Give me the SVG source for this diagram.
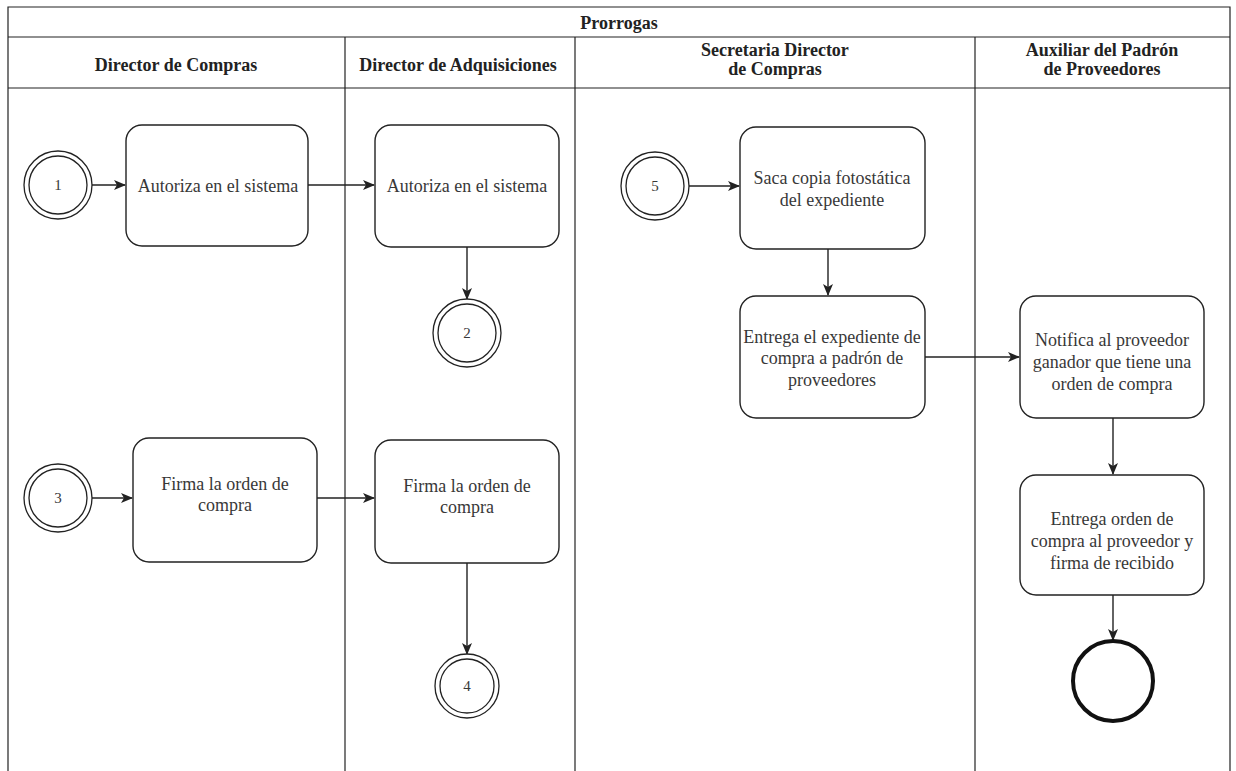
<svg xmlns="http://www.w3.org/2000/svg" width="1236" height="771" viewBox="0 0 1236 771">
  <style>
    .lane { fill: none; stroke: #222; stroke-width: 1.2; }
    .task rect { fill: #fff; stroke: #222; stroke-width: 1.4; }
    .lbl { font-family: "Liberation Serif", "DejaVu Serif", "Times New Roman", serif; font-size: 18px; fill: #383838; text-anchor: middle; }
    .num { font-family: "Liberation Serif", "DejaVu Serif", "Times New Roman", serif; font-size: 15px; fill: #383838; text-anchor: middle; }
    .hdr { font-family: "Liberation Serif", "DejaVu Serif", "Times New Roman", serif; font-size: 18px; font-weight: bold; fill: #222; text-anchor: middle; }
    .ring { fill: #fff; stroke: #222; stroke-width: 1.3; }
    .edge { fill: none; stroke: #222; stroke-width: 1.4; marker-end: url(#arrow); }
  </style>
  <defs>
    <marker id="arrow" viewBox="0 0 12 10" refX="11" refY="5" markerWidth="12" markerHeight="10" markerUnits="userSpaceOnUse" orient="auto">
      <path d="M0,0 L12,5 L0,10 L3,5 Z" fill="#222"/>
    </marker>
  </defs>
  <rect width="1236" height="771" fill="#fff"/>

  <!-- pool and swimlanes -->
  <g id="pool">
    <path class="lane" d="M8,775 V7 H1230 V775"/>
    <line class="lane" x1="8" y1="37" x2="1230" y2="37"/>
    <line class="lane" x1="8" y1="88" x2="1230" y2="88"/>
    <line class="lane" x1="345" y1="37" x2="345" y2="775"/>
    <line class="lane" x1="575" y1="37" x2="575" y2="775"/>
    <line class="lane" x1="975" y1="37" x2="975" y2="775"/>
    <text class="hdr" x="619" y="29">Prorrogas</text>
    <text class="hdr" x="176" y="71">Director de Compras</text>
    <text class="hdr" x="458" y="71">Director de Adquisiciones</text>
    <text class="hdr" x="775" y="56">Secretaria Director</text>
    <text class="hdr" x="775" y="75">de Compras</text>
    <text class="hdr" x="1102" y="56">Auxiliar del Padrón</text>
    <text class="hdr" x="1102" y="75">de Proveedores</text>
  </g>

  <!-- connectors -->
  <g id="connectors">
    <line class="edge" x1="92" y1="185" x2="125" y2="185"/>
    <line class="edge" x1="308" y1="185" x2="374" y2="185"/>
    <line class="edge" x1="467" y1="247" x2="467" y2="299"/>
    <line class="edge" x1="92" y1="498" x2="132" y2="498"/>
    <line class="edge" x1="317" y1="498" x2="374" y2="498"/>
    <line class="edge" x1="467" y1="563" x2="467" y2="654"/>
    <line class="edge" x1="689" y1="186" x2="739" y2="186"/>
    <line class="edge" x1="828" y1="249" x2="828" y2="295"/>
    <line class="edge" x1="925" y1="357" x2="1019" y2="357"/>
    <line class="edge" x1="1113" y1="418" x2="1113" y2="474"/>
    <line class="edge" x1="1113" y1="595" x2="1113" y2="640"/>
  </g>

  <!-- intermediate link events -->
  <g id="ev1"><circle class="ring" cx="58" cy="185" r="34"/><circle class="ring" cx="58" cy="185" r="29"/><text class="num" x="58" y="190">1</text></g>
  <g id="ev2"><circle class="ring" cx="467" cy="333" r="34"/><circle class="ring" cx="467" cy="333" r="29"/><text class="num" x="467" y="338">2</text></g>
  <g id="ev3"><circle class="ring" cx="58" cy="498" r="34"/><circle class="ring" cx="58" cy="498" r="29"/><text class="num" x="58" y="503">3</text></g>
  <g id="ev4"><circle class="ring" cx="467" cy="686" r="32"/><circle class="ring" cx="467" cy="686" r="27"/><text class="num" x="467" y="691">4</text></g>
  <g id="ev5"><circle class="ring" cx="655" cy="186" r="34"/><circle class="ring" cx="655" cy="186" r="29"/><text class="num" x="655" y="191">5</text></g>

  <!-- tasks -->
  <g id="t1" class="task"><rect x="126" y="125" width="182" height="121" rx="16"/><text class="lbl" x="218" y="192">Autoriza en el sistema</text></g>
  <g id="t2" class="task"><rect x="375" y="125" width="184" height="122" rx="16"/><text class="lbl" x="467" y="192">Autoriza en el sistema</text></g>
  <g id="t3" class="task"><rect x="133" y="438" width="184" height="124" rx="16"/><text class="lbl" x="225" y="490">Firma la orden de</text><text class="lbl" x="225" y="511">compra</text></g>
  <g id="t4" class="task"><rect x="375" y="440" width="184" height="123" rx="16"/><text class="lbl" x="467" y="492">Firma la orden de</text><text class="lbl" x="467" y="513">compra</text></g>
  <g id="t5" class="task"><rect x="740" y="127" width="185" height="122" rx="16"/><text class="lbl" x="832" y="184">Saca copia fotostática</text><text class="lbl" x="832" y="206">del expediente</text></g>
  <g id="t6" class="task"><rect x="740" y="296" width="185" height="122" rx="16"/><text class="lbl" x="832" y="343">Entrega el expediente de</text><text class="lbl" x="832" y="364">compra a padrón de</text><text class="lbl" x="832" y="386">proveedores</text></g>
  <g id="t7" class="task"><rect x="1020" y="296" width="184" height="122" rx="16"/><text class="lbl" x="1112" y="346">Notifica al proveedor</text><text class="lbl" x="1112" y="368">ganador que tiene una</text><text class="lbl" x="1112" y="390">orden de compra</text></g>
  <g id="t8" class="task"><rect x="1020" y="475" width="184" height="120" rx="16"/><text class="lbl" x="1112" y="525">Entrega orden de</text><text class="lbl" x="1112" y="547">compra al proveedor y</text><text class="lbl" x="1112" y="569">firma de recibido</text></g>

  <!-- end event -->
  <g id="end"><circle cx="1113" cy="681" r="40" fill="#fff" stroke="#111" stroke-width="4"/></g>
</svg>
